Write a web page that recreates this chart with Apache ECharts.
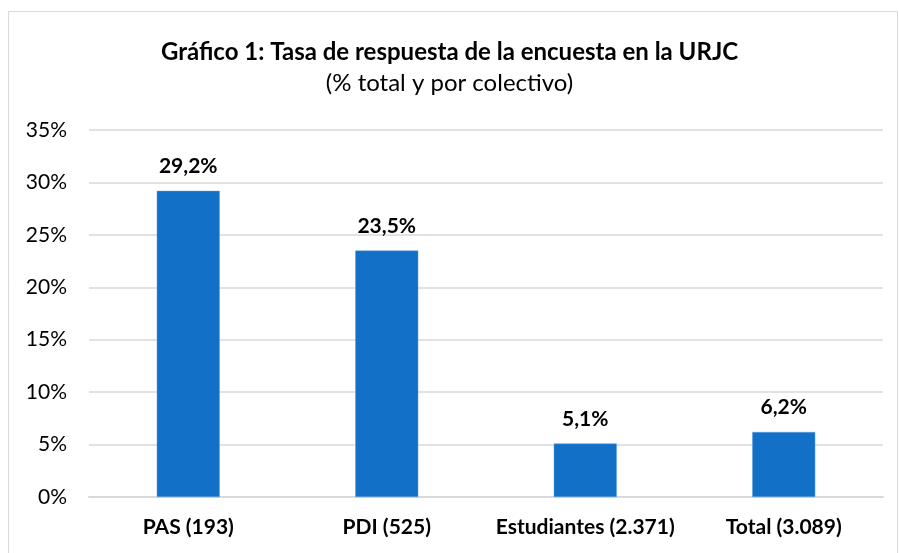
<!DOCTYPE html>
<html>
<head>
<meta charset="utf-8">
<script src="https://cdn.jsdelivr.net/npm/echarts@6/dist/echarts.min.js"></script>
<style>
  html, body { margin: 0; padding: 0; background: #fff; }
  #chart { width: 899px; height: 553px; }
</style>
</head>
<body>
<div id="chart"></div>
<script>
const categories = ['PAS (193)', 'PDI (525)', 'Estudiantes (2.371)', 'Total (3.089)']
const tasa = [29.2, 23.5, 5.1, 6.2]

const font = 'Lato, "Open Sans", sans-serif'
const chart = echarts.init(document.getElementById('chart'))

chart.setOption({
  backgroundColor: '#fff',
  textStyle: { fontFamily: font },
  title: {
    text: 'Gráfico 1: Tasa de respuesta de la encuesta en la URJC',
    subtext: '(% total y por colectivo)',
    left: 'center',
    top: 35,
    itemGap: 7,
    textStyle: { fontFamily: font, fontSize: 24, fontWeight: 'bold', color: '#000' },
    subtextStyle: { fontFamily: font, fontSize: 24, color: '#000' }
  },
  graphic: [{
    type: 'rect',
    shape: { x: 8.5, y: 11.5, width: 889, height: 560 },
    style: { fill: 'none', stroke: '#d9d9d9', lineWidth: 1 },
    silent: true
  }],
  grid: { left: 89, right: 16, top: 130, bottom: 56 },
  xAxis: {
    type: 'category',
    data: categories,
    axisLine: { lineStyle: { color: '#d9d9d9', width: 2 } },
    axisTick: { show: false },
    axisLabel: { interval: 0, fontFamily: font, fontSize: 21, fontWeight: 'bold', color: '#000', margin: 20 }
  },
  yAxis: {
    type: 'value',
    min: 0,
    max: 35,
    interval: 5,
    axisLine: { show: false },
    axisTick: { show: false },
    splitLine: { lineStyle: { color: '#d9d9d9', width: 1.5 } },
    axisLabel: { fontFamily: font, fontSize: 21, color: '#000', margin: 22, formatter: '{value}%' }
  },
  series: [{
    type: 'bar',
    data: tasa,
    barWidth: 63,
    itemStyle: { color: '#1270c6', borderColor: '#5a9de0', borderWidth: 0.5 },
    label: {
      show: true,
      position: 'top',
      distance: 14,
      fontFamily: font,
      fontSize: 21,
      fontWeight: 'bold',
      color: '#000',
      formatter: p => p.value.toFixed(1).replace('.', ',') + '%'
    }
  }]
})
</script>
</body>
</html>
